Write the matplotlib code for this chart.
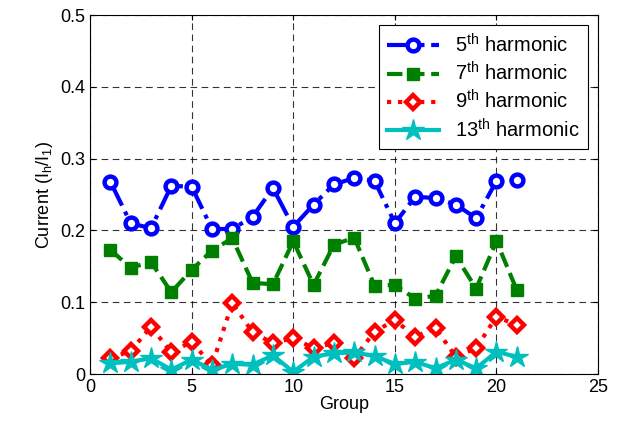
import matplotlib as mpl
mpl.use('Agg')
import matplotlib.pyplot as plt

mpl.rcParams.update({'font.size': 13, 'font.family': ['Liberation Sans', 'DejaVu Sans'],
                     'mathtext.fontset': 'custom', 'mathtext.rm': 'Liberation Sans'})

groups = list(range(1, 22))
h5 = [0.268, 0.210, 0.203, 0.262, 0.261, 0.202, 0.202, 0.219, 0.259, 0.205, 0.236,
      0.264, 0.273, 0.269, 0.210, 0.247, 0.245, 0.236, 0.217, 0.269, 0.270]
h7 = [0.173, 0.148, 0.156, 0.114, 0.145, 0.172, 0.189, 0.127, 0.125, 0.185, 0.124,
      0.180, 0.190, 0.123, 0.124, 0.105, 0.109, 0.164, 0.119, 0.185, 0.117]
h9 = [0.022, 0.032, 0.066, 0.030, 0.045, 0.012, 0.099, 0.058, 0.043, 0.050, 0.036,
      0.043, 0.022, 0.059, 0.075, 0.052, 0.064, 0.024, 0.036, 0.080, 0.068]
h13 = [0.015, 0.017, 0.022, 0.006, 0.020, 0.006, 0.014, 0.013, 0.026, 0.003, 0.024,
       0.029, 0.030, 0.025, 0.014, 0.017, 0.008, 0.020, 0.008, 0.031, 0.024]

fig = plt.figure(figsize=(6.23, 4.23), dpi=100)
ax = fig.add_axes([0.1445, 0.1158, 0.8155, 0.8487])

ax.plot(groups, h5, color='b', linestyle='-.', linewidth=3, marker='o', markersize=8.5,
        markerfacecolor='w', markeredgewidth=3.2, label=r'5$^{\mathregular{th}}$ harmonic')
ax.plot(groups, h7, color='g', linestyle='--', linewidth=3, marker='s', markersize=9,
        label=r'7$^{\mathregular{th}}$ harmonic')
ax.plot(groups, h9, color='r', linestyle=':', linewidth=3, marker='D', markersize=7,
        markerfacecolor='w', markeredgewidth=3.2, label=r'9$^{\mathregular{th}}$ harmonic')
ax.plot(groups, h13, color='c', linestyle='-', linewidth=3, marker='*', markersize=16,
        label=r'13$^{\mathregular{th}}$ harmonic')

ax.set_xlim(0, 25)
ax.set_ylim(0, 0.5)
ax.set_xticks([0, 5, 10, 15, 20, 25])
ax.set_yticks([0, 0.1, 0.2, 0.3, 0.4, 0.5])
ax.set_yticklabels(['0', '0.1', '0.2', '0.3', '0.4', '0.5'])
ax.tick_params(direction='in', top=True, right=True)
ax.grid(True, color='k', linestyle=(0, (6, 4)), linewidth=0.8, alpha=0.8)
ax.set_xlabel('Group', labelpad=0)
ax.set_ylabel(r'Current (I$_{\mathregular{h}}$/I$_{\mathregular{1}}$)')

leg = ax.legend(loc='upper right', fancybox=False, edgecolor='k', framealpha=1,
                handlelength=2.6, borderaxespad=0.5, labelspacing=0.25, fontsize=14.5)
leg.get_frame().set_linewidth(0.8)

plt.savefig('out.png', dpi=100)
plt.close(fig)
